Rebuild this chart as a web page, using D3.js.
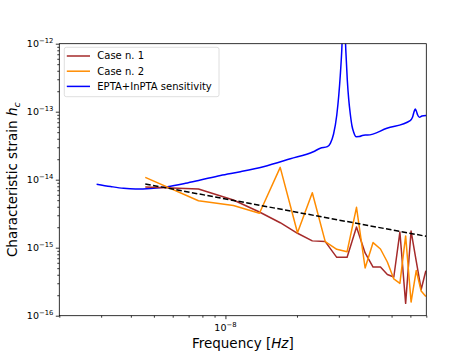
<!DOCTYPE html>
<html>
<head>
<meta charset="utf-8">
<script src="https://cdn.jsdelivr.net/npm/d3@7"></script>
<style>
  body { margin: 0; background: #fff; }
  text { font-family: "DejaVu Sans", sans-serif; fill: #000; }
</style>
</head>
<body>
<script>
let w = 473;
let h = 355;

// EPTA+InPTA sensitivity curve
let sensFreq = [2.871e-9, 3.287e-9, 3.727e-9, 4.184e-9, 4.84e-9, 5.706e-9, 6.79e-9, 7.85e-9,
  9.53e-9, 1.156e-8, 1.444e-8, 1.876e-8, 2.343e-8, 2.507e-8, 2.684e-8, 2.763e-8, 2.851e-8,
  2.941e-8, 2.999e-8, 3.043e-8, 3.087e-8, 3.147e-8, 3.209e-8, 3.256e-8, 3.303e-8, 3.352e-8,
  3.408e-8, 3.461e-8, 3.552e-8, 3.656e-8, 3.764e-8, 3.875e-8, 3.962e-8, 4.778e-8, 5.988e-8,
  6.124e-8, 6.213e-8, 6.285e-8, 6.365e-8, 6.439e-8, 6.552e-8, 6.706e-8, 6.99e-8];
let sensHc = [8.59e-15, 7.94e-15, 7.47e-15, 7.30e-15, 7.43e-15, 7.89e-15, 8.85e-15, 9.90e-15,
  1.153e-14, 1.311e-14, 1.553e-14, 2.03e-14, 2.58e-14, 2.90e-14, 3.06e-14, 3.43e-14, 4.70e-14,
  8.94e-14, 1.76e-13, 3.46e-13, 8.08e-13, 5e-12, 8.08e-13, 2.92e-13, 1.49e-13, 9.25e-14,
  6.16e-14, 5.03e-14, 4.29e-14, 4.31e-14, 4.47e-14, 4.54e-14, 4.54e-14, 5.70e-14, 7.42e-14,
  8.27e-14, 9.90e-14, 1.096e-13, 1.007e-13, 8.94e-14, 8.27e-14, 8.64e-14, 8.79e-14];

// frequency bins of the two cases
let caseFreq = [4.6e-9, 7.7e-9, 1.08e-8, 1.39e-8, 1.70e-8, 2.01e-8, 2.32e-8, 2.63e-8, 2.94e-8,
  3.25e-8, 3.56e-8, 3.87e-8, 4.18e-8, 4.49e-8, 4.80e-8, 5.11e-8, 5.42e-8, 5.73e-8, 6.04e-8,
  6.35e-8, 6.66e-8, 6.97e-8];
let case1 = [7.81e-15, 7.30e-15, 5.03e-15, 3.35e-15, 2.33e-15, 1.63e-15, 1.26e-15, 1.23e-15,
  7.22e-16, 7.22e-16, 2.02e-15, 8.36e-16, 5.20e-16, 5.20e-16, 4.04e-16, 3.71e-16, 1.70e-15,
  1.52e-16, 1.76e-15, 6.37e-16, 2.43e-16, 4.59e-16];
let case2 = [1.08e-14, 4.91e-15, 4.17e-15, 3.21e-15, 1.52e-14, 1.66e-15, 6.44e-15, 1.23e-15,
  9.47e-16, 8.73e-16, 3.93e-15, 5.03e-16, 1.19e-15, 9.57e-16, 6.16e-16, 3.47e-16, 2.99e-16,
  1.49e-15, 1.59e-16, 4.62e-16, 2.31e-16, 1.92e-16];

// power-law reference (dashed)
let fitFreq = [4.6e-9, 7.0e-8];
let fitHc = [8.65e-15, 1.47e-15];

let yMajor = [1e-16, 1e-15, 1e-14, 1e-13, 1e-12];
let yLabels = ["\u221216", "\u221215", "\u221214", "\u221213", "\u221212"];
let xMajor = [1e-8];
let xLabels = ["\u22128"];

let axL = 59.3, axR = 426.3, axT = 43.7, axB = 315.7;

let x = d3.scaleLog().domain([2e-9, 7e-8]).range([axL, axR]);
let y = d3.scaleLog().domain([1e-16, 1e-12]).range([axB, axT]);

let svg = d3.select("body")
            .append("svg")
            .attr("width", w)
            .attr("height", h);

svg.append("clipPath").attr("id", "clip")
   .append("rect")
   .attr("x", axL).attr("y", axT)
   .attr("width", axR - axL).attr("height", axB - axT);

// minor ticks
let minorX = [];
[1e-9, 1e-8].forEach(d => { for (let k = 2; k <= 9; k++) minorX.push(k * d); });
minorX = minorX.filter(v => v >= 2e-9 && v <= 7e-8 && Math.abs(v - 1e-8) > 1e-12);
let minorY = [];
[1e-16, 1e-15, 1e-14, 1e-13].forEach(d => { for (let k = 2; k <= 9; k++) minorY.push(k * d); });

let xAxis = svg.append("g").attr("transform", `translate(0,${axB})`);
xAxis.append("g").call(d3.axisBottom(x).tickValues(xMajor).tickSize(3.5).tickSizeOuter(0).tickFormat(""));
xAxis.append("g").call(d3.axisBottom(x).tickValues(minorX).tickSize(2).tickSizeOuter(0).tickFormat(""));

let yAxis = svg.append("g").attr("transform", `translate(${axL},0)`);
yAxis.append("g").call(d3.axisLeft(y).tickValues(yMajor).tickSize(3.5).tickSizeOuter(0).tickFormat(""));
yAxis.append("g").call(d3.axisLeft(y).tickValues(minorY).tickSize(2).tickSizeOuter(0).tickFormat(""));

svg.selectAll(".domain").remove();
svg.selectAll(".tick line").attr("stroke", "#000").attr("stroke-width", 0.8);

// tick labels with superscripts
yMajor.forEach((v, i) => {
  let t = svg.append("text")
     .attr("x", axL - 6)
     .attr("y", y(v) + 3.6)
     .attr("text-anchor", "end")
     .style("font-size", "9.5px");
  t.append("tspan").text("10");
  t.append("tspan").attr("dy", -4.2).style("font-size", "6.8px").text(yLabels[i]);
});
xMajor.forEach((v, i) => {
  let t = svg.append("text")
     .attr("x", x(v))
     .attr("y", axB + 15.5)
     .attr("text-anchor", "middle")
     .style("font-size", "9.5px");
  t.append("tspan").text("10");
  t.append("tspan").attr("dy", -4.2).style("font-size", "6.8px").text(xLabels[i]);
});

// axis titles
let xt = svg.append("text")
   .attr("x", (axL + axR) / 2)
   .attr("y", 348)
   .attr("text-anchor", "middle")
   .style("font-size", "13.5px");
xt.append("tspan").text("Frequency [");
xt.append("tspan").style("font-style", "italic").text("Hz");
xt.append("tspan").text("]");

let yt = svg.append("text")
   .attr("transform", `translate(17,${(axT + axB) / 2}) rotate(-90)`)
   .attr("text-anchor", "middle")
   .style("font-size", "13.5px");
yt.append("tspan").text("Characteristic strain ");
yt.append("tspan").style("font-style", "italic").text("h");
yt.append("tspan").attr("dy", 2.8).style("font-size", "9.5px").style("font-style", "italic").text("c");

// lines
let plot = svg.append("g").attr("clip-path", "url(#clip)");

let line = d3.line().x(d => x(d[0])).y(d => y(d[1]));

plot.append("path")
    .datum(sensFreq.map((f, i) => [f, sensHc[i]]))
    .attr("d", line.curve(d3.curveMonotoneX))
    .attr("fill", "none").attr("stroke", "#0000ff").attr("stroke-width", 1.5);

line.curve(d3.curveLinear);

plot.append("path")
    .datum(caseFreq.map((f, i) => [f, case1[i]]))
    .attr("d", line)
    .attr("fill", "none").attr("stroke", "#a52a2a").attr("stroke-width", 1.5)
    .attr("stroke-linejoin", "round");

plot.append("path")
    .datum(caseFreq.map((f, i) => [f, case2[i]]))
    .attr("d", line)
    .attr("fill", "none").attr("stroke", "#ff8c00").attr("stroke-width", 1.5)
    .attr("stroke-linejoin", "round");

plot.append("path")
    .datum(fitFreq.map((f, i) => [f, fitHc[i]]))
    .attr("d", line)
    .attr("fill", "none").attr("stroke", "#000").attr("stroke-width", 1.5)
    .attr("stroke-dasharray", "5.5,2.4");

// frame
svg.append("rect")
   .attr("x", axL).attr("y", axT)
   .attr("width", axR - axL).attr("height", axB - axT)
   .attr("fill", "none").attr("stroke", "#000").attr("stroke-width", 0.8);

// legend
let legendItems = [
  { name: "Case n. 1", color: "#a52a2a" },
  { name: "Case n. 2", color: "#ff8c00" },
  { name: "EPTA+InPTA sensitivity", color: "#0000ff" }
];
let lg = svg.append("g").attr("transform", "translate(64.3,47.3)");
lg.append("rect")
  .attr("width", 154.7).attr("height", 49.4)
  .attr("rx", 2).attr("ry", 2)
  .attr("fill", "#fff").attr("fill-opacity", 0.8)
  .attr("stroke", "#d6d6d6").attr("stroke-width", 0.8);
legendItems.forEach((d, i) => {
  let yy = 8.7 + i * 15.2;
  lg.append("line")
    .attr("x1", 2.5).attr("x2", 25.7)
    .attr("y1", yy).attr("y2", yy)
    .attr("stroke", d.color).attr("stroke-width", 1.5);
  lg.append("text")
    .attr("x", 33).attr("y", yy + 3.5)
    .style("font-size", "10px")
    .text(d.name);
});
</script>
</body>
</html>
